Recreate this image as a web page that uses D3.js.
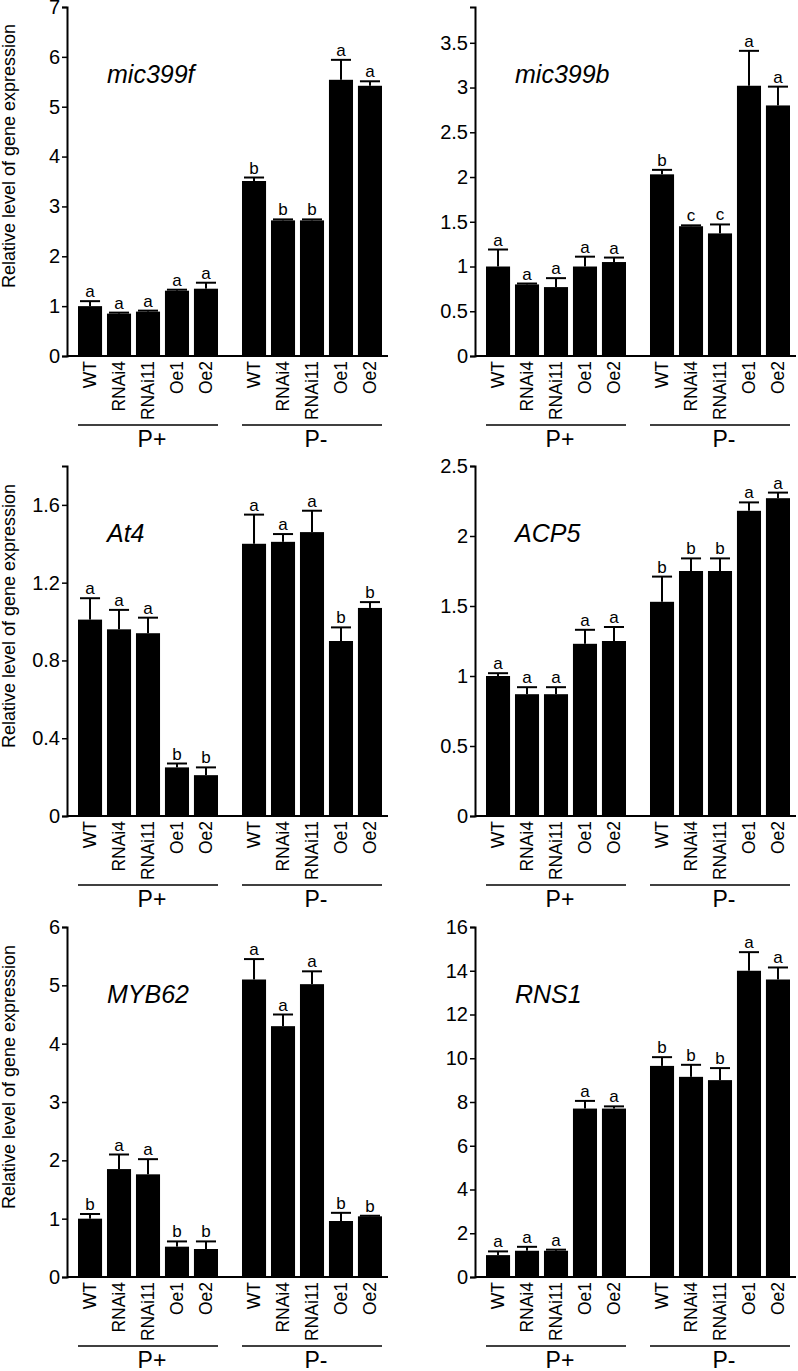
<!DOCTYPE html>
<html><head><meta charset="utf-8">
<script src="https://cdn.jsdelivr.net/npm/d3@7"></script>
<style>
body{margin:0;background:#fff}
svg{display:block}
text{font-family:"Liberation Sans",Arial,Helvetica,sans-serif;fill:#000}
</style>
</head><body>
<svg id="chart" width="798" height="1371"></svg>
<script>
// ---------- data ----------
const genotypes = ["WT","RNAi4","RNAi11","Oe1","Oe2"];
const conditions = ["P+","P-"];
const genes = ["mic399f","mic399b","At4","ACP5","MYB62","RNS1"];

// means: P+ (5 genotypes) then P- (5 genotypes)
const mic399f_mean = [1.00,0.85,0.89,1.31,1.35, 3.51,2.72,2.72,5.54,5.42];
const mic399f_sd   = [0.10,0.02,0.02,0.02,0.12, 0.07,0.02,0.02,0.40,0.09];
const mic399f_sig  = ["a","a","a","a","a", "b","b","b","a","a"];

const mic399b_mean = [1.00,0.80,0.77,1.00,1.05, 2.03,1.45,1.37,3.02,2.80];
const mic399b_sd   = [0.19,0.01,0.10,0.11,0.05, 0.05,0.01,0.10,0.39,0.21];
const mic399b_sig  = ["a","a","a","a","a", "b","c","c","a","a"];

const At4_mean = [1.01,0.96,0.94,0.25,0.21, 1.40,1.41,1.46,0.90,1.07];
const At4_sd   = [0.11,0.10,0.08,0.02,0.04, 0.15,0.04,0.11,0.07,0.03];
const At4_sig  = ["a","a","a","b","b", "a","a","a","b","b"];

const ACP5_mean = [1.00,0.87,0.87,1.23,1.25, 1.53,1.75,1.75,2.18,2.27];
const ACP5_sd   = [0.02,0.05,0.05,0.10,0.10, 0.18,0.09,0.09,0.06,0.04];
const ACP5_sig  = ["a","a","a","a","a", "b","b","b","a","a"];

const MYB62_mean = [1.00,1.85,1.76,0.52,0.48, 5.10,4.30,5.02,0.96,1.04];
const MYB62_sd   = [0.08,0.25,0.26,0.09,0.13, 0.35,0.20,0.22,0.14,0.01];
const MYB62_sig  = ["b","a","a","b","b", "a","a","a","b","b"];

const RNS1_mean = [1.00,1.20,1.20,7.70,7.70, 9.65,9.15,9.00,14.00,13.60];
const RNS1_sd   = [0.17,0.18,0.05,0.35,0.10, 0.40,0.55,0.55,0.85,0.55];
const RNS1_sig  = ["a","a","a","a","a", "b","b","b","a","a"];

const yMax = [7, 3.9, 1.8, 2.5, 6, 16];
const yTicks = [
  [0,1,2,3,4,5,6,7],
  [0,0.5,1,1.5,2,2.5,3,3.5],
  [0,0.4,0.8,1.2,1.6],
  [0,0.5,1,1.5,2,2.5],
  [0,1,2,3,4,5,6],
  [0,2,4,6,8,10,12,14,16]
];
const yTitle = "Relative level of gene expression";

const means = [mic399f_mean,mic399b_mean,At4_mean,ACP5_mean,MYB62_mean,RNS1_mean];
const sds   = [mic399f_sd,mic399b_sd,At4_sd,ACP5_sd,MYB62_sd,RNS1_sd];
const sigs  = [mic399f_sig,mic399b_sig,At4_sig,ACP5_sig,MYB62_sig,RNS1_sig];

// ---------- layout ----------
const svg = d3.select("#chart");
const axisXs = [67, 475];
const tops = [7, 466, 927];
const bases = [356, 816, 1277];
const axisLen = 321;

const fmt = v => String(+v.toFixed(2));

genes.forEach((gene, gi) => {
  const col = gi % 2, row = Math.floor(gi / 2);
  const plotH = bases[row] - tops[row];
  const g = svg.append("g").attr("transform", `translate(${axisXs[col]},${tops[row]})`);

  const y = d3.scaleLinear().domain([0, yMax[gi]]).range([plotH, 0]);
  const xg = d3.scaleBand().domain(conditions).range([11, 315]).paddingInner(0.1463).paddingOuter(0);
  const xi = d3.scaleBand().domain(genotypes).range([0, xg.bandwidth()]).paddingInner(0.17).paddingOuter(0);

  const rows = [];
  conditions.forEach((c, ci) => genotypes.forEach((gt, k) => {
    const idx = ci * 5 + k;
    rows.push({c, gt, m: means[gi][idx], sd: sds[gi][idx], s: sigs[gi][idx]});
  }));
  const xc = d => xg(d.c) + xi(d.gt);
  const bw = xi.bandwidth();

  // bars
  g.selectAll("rect.bar").data(rows).join("rect")
    .attr("class","bar")
    .attr("x", d => xc(d)).attr("width", bw)
    .attr("y", d => y(d.m)).attr("height", d => plotH - y(d.m))
    .attr("fill", "#000");

  // error bars
  const eb = g.selectAll("g.err").data(rows).join("g").attr("class","err")
    .attr("stroke","#000").attr("stroke-width",2);
  eb.append("line")
    .attr("x1", d => xc(d) + bw/2).attr("x2", d => xc(d) + bw/2)
    .attr("y1", d => y(d.m)).attr("y2", d => y(d.m + d.sd));
  eb.append("line")
    .attr("x1", d => xc(d) + 2).attr("x2", d => xc(d) + bw - 2)
    .attr("y1", d => y(d.m + d.sd)).attr("y2", d => y(d.m + d.sd));

  // significance letters
  g.selectAll("text.sig").data(rows).join("text").attr("class","sig")
    .attr("x", d => xc(d) + bw/2).attr("y", d => y(d.m + d.sd) - 4)
    .attr("text-anchor","middle").attr("font-size",17).text(d => d.s);

  // y axis
  const ya = g.append("g").call(
    d3.axisLeft(y).tickValues(yTicks[gi]).tickFormat(fmt).tickSize(5).tickSizeOuter(5).tickPadding(2)
  );
  ya.select(".domain").attr("stroke-width",2);
  ya.selectAll(".tick line").attr("stroke-width",1.5);
  ya.selectAll(".tick text").attr("font-size",20).attr("font-family","Liberation Sans, Arial, sans-serif");

  // x axis line
  g.append("line").attr("x1",0).attr("x2",axisLen).attr("y1",plotH).attr("y2",plotH)
    .attr("stroke","#000").attr("stroke-width",2);

  // category labels
  g.selectAll("text.cat").data(rows).join("text").attr("class","cat")
    .attr("transform", d => `translate(${xc(d) + bw/2},${plotH + 5}) rotate(-90)`)
    .attr("text-anchor","end").attr("dy","0.36em").attr("font-size",17.5).text(d => d.gt);

  // group underline + labels
  conditions.forEach(c => {
    g.append("line").attr("x1", xg(c)).attr("x2", xg(c) + xg.bandwidth())
      .attr("y1", plotH + 69).attr("y2", plotH + 69).attr("stroke","#000").attr("stroke-width",1.5);
    g.append("text").attr("x", xg(c) + xg.bandwidth()/2 + 4).attr("y", plotH + 91)
      .attr("text-anchor","middle").attr("font-size",23).text(c);
  });

  // gene name
  g.append("text").attr("x", 40).attr("y", 76).attr("font-size",25)
    .attr("font-style","italic").text(gene);

  // y title
  if (col === 0) {
    svg.append("text")
      .attr("transform", `translate(15,${bases[row] - 200}) rotate(-90)`)
      .attr("text-anchor","middle").attr("font-size",18).text(yTitle);
  }
});
</script>
</body></html>
